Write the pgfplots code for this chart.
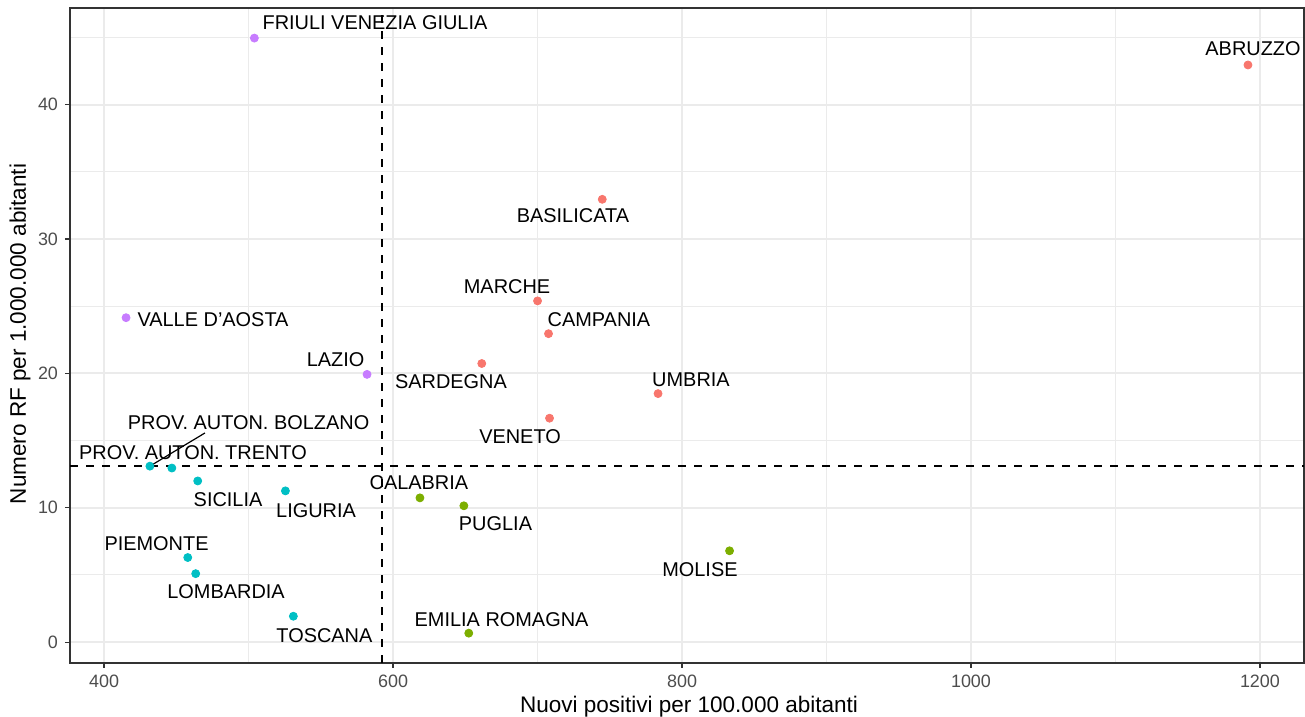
\documentclass[border=0pt]{standalone}
\usepackage{fontspec}
\setmainfont{Liberation Sans}
\usepackage{pgfplots}
\pgfplotsset{compat=1.18}
\definecolor{cred}{HTML}{F8766D}
\definecolor{cgreen}{HTML}{7CAE00}
\definecolor{ccyan}{HTML}{00BFC4}
\definecolor{cpurple}{HTML}{C77CFF}
\definecolor{gridc}{HTML}{EBEBEB}
\definecolor{grey20}{HTML}{333333}
\definecolor{grey30}{HTML}{4D4D4D}
\begin{document}
\begin{tikzpicture}
\begin{axis}[
  at={(35bp,27bp)}, anchor=south west,
  scale only axis, width=617bp, height=327.5bp,
  xmin=376.4, xmax=1230.5, ymin=-1.55, ymax=47.2,
  xtick={400,600,800,1000,1200}, ytick={0,10,20,30,40},
  minor xtick={500,700,900,1100}, minor ytick={5,15,25,35,45},
  grid=both,
  major grid style={color=gridc, line width=1bp},
  minor grid style={color=gridc, line width=0.5bp},
  axis line style={color=grey20, line width=0.6bp},
  xtick pos=bottom, ytick pos=left,
  tick align=outside, major tick length=2.5bp, minor tick length=0pt,
  tick style={color=grey20, line width=0.6bp},
  tick label style={font=\fontsize{9}{10}\selectfont, color=grey30},
  /pgf/number format/assume math mode=true,
  /pgf/number format/set thousands separator={},
  every node/.append style={font=\fontsize{10}{12}\selectfont},
]
% red group
\addplot[only marks, mark=*, mark size=2bp, color=cred] table {
x y
1191.7 42.96
744.8 32.96
700.0 25.4
707.6 22.96
661.4 20.74
783.4 18.5
708.3 16.67
};
% purple group
\addplot[only marks, mark=*, mark size=2bp, color=cpurple] table {
x y
504.0 44.96
415.2 24.15
582.0 19.93
};
% cyan group
\addplot[only marks, mark=*, mark size=2bp, color=ccyan] table {
x y
431.7 13.1
446.9 12.96
464.8 12.0
525.5 11.26
457.9 6.3
463.4 5.1
531.0 1.93
};
% green group
\addplot[only marks, mark=*, mark size=2bp, color=cgreen] table {
x y
618.6 10.74
649.0 10.15
832.9 6.8
652.4 0.67
};
% labels
\node at (axis cs:587.5,46.08) {FRIULI VENEZIA GIULIA};
\node at (axis cs:1195.2,44.15) {ABRUZZO};
\node at (axis cs:724.5,31.72) {BASILICATA};
\node at (axis cs:678.9,26.43) {MARCHE};
\node at (axis cs:742.5,23.98) {CAMPANIA};
\node at (axis cs:475.4,23.98) {VALLE D'AOSTA};
\node at (axis cs:560.2,21.0) {LAZIO};
\node at (axis cs:640.1,19.36) {SARDEGNA};
\node at (axis cs:806.2,19.51) {UMBRIA};
\node at (axis cs:687.9,15.27) {VENETO};
\node at (axis cs:500.0,16.31) {PROV. AUTON. BOLZANO};
\node at (axis cs:461.5,14.08) {PROV. AUTON. TRENTO};
\node at (axis cs:485.8,10.58) {SICILIA};
\node at (axis cs:546.7,9.76) {LIGURIA};
\node at (axis cs:617.9,11.85) {CALABRIA};
\node at (axis cs:670.9,8.80) {PUGLIA};
\node at (axis cs:812.4,5.37) {MOLISE};
\node at (axis cs:436.3,7.31) {PIEMONTE};
\node at (axis cs:484.4,3.74) {LOMBARDIA};
\node at (axis cs:552.5,0.46) {TOSCANA};
\node at (axis cs:675.1,1.65) {EMILIA ROMAGNA};
\draw[black, line width=0.6bp] (axis cs:469.8,15.57) -- (axis cs:431.7,13.1);
% dashed reference lines
\addplot[black, line width=0.8bp, dash pattern=on 4bp off 4bp] coordinates {(592.4,-1.55) (592.4,47.2)};
\addplot[black, line width=0.8bp, dash pattern=on 4bp off 4bp] coordinates {(376.4,13.1) (1230.5,13.1)};
\end{axis}
\node[font=\fontsize{11.3}{13}\selectfont, anchor=center] at (344.5bp,5bp) {Nuovi positivi per 100.000 abitanti};
\node[font=\fontsize{11.3}{13}\selectfont, rotate=90, anchor=center] at (10bp,191.5bp) {Numero RF per 1.000.000 abitanti};
\pgfresetboundingbox
\path[use as bounding box] (0,0) rectangle (652.5bp,358.5bp);
\end{tikzpicture}
\end{document}
